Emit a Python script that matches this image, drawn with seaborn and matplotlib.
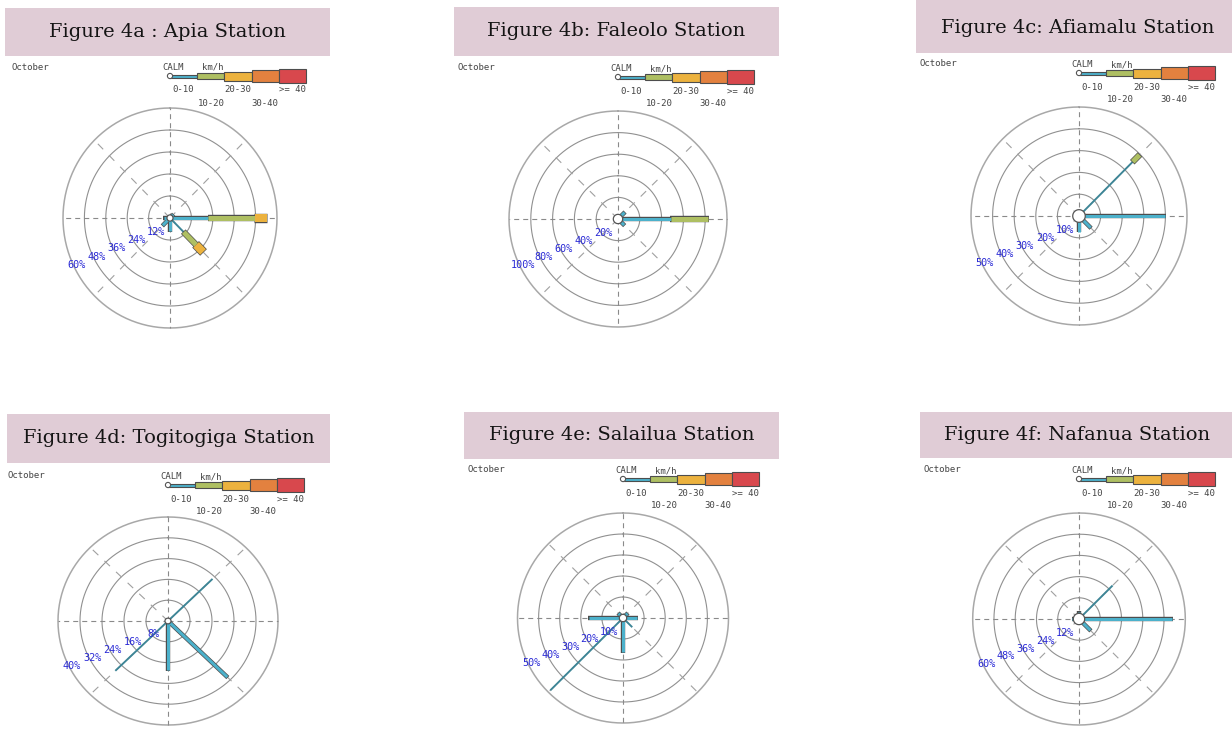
import numpy as np
import matplotlib
matplotlib.use("Agg")
import matplotlib.pyplot as plt
from matplotlib.patches import Rectangle, Circle
import seaborn as sns

# ---------------------------------------------------------------- data
DIRECTIONS = ["N", "NE", "E", "SE", "S", "SW", "W", "NW"]
SPEED_CLASSES = ["0-10", "10-20", "20-30", "30-40", ">= 40"]
MONTH = "October"
UNIT = "km/h"

# Apia (% of observations per direction and speed class)
apia_title = "Figure 4a : Apia Station"
apia_rings = [12, 24, 36, 48, 60]
apia_calm = 1.7
apia_0_10 = [0, 2.5, 21.5, 10.9, 7.3, 5.7, 3.4, 0]
apia_10_20 = [0, 0, 26.2, 9.8, 0, 0, 0, 0]
apia_20_30 = [0, 0, 6.5, 5.5, 0, 0, 0, 0]

# Faleolo
faleolo_title = "Figure 4b: Faleolo Station"
faleolo_rings = [20, 40, 60, 80, 100]
faleolo_calm = 4.3
faleolo_0_10 = [0, 8.5, 48.3, 8.0, 0, 0, 0, 0]
faleolo_10_20 = [0, 0, 34.5, 0, 0, 0, 0, 0]

# Afiamalu
afiamalu_title = "Figure 4c: Afiamalu Station"
afiamalu_rings = [10, 20, 30, 40, 50]
afiamalu_calm = 2.9
afiamalu_0_10 = [0, 35.2, 39.8, 7.6, 7.2, 0, 0, 0]
afiamalu_10_20 = [0, 4.4, 0, 0, 0, 0, 0, 0]

# Togitogiga
togitogiga_title = "Figure 4d: Togitogiga Station"
togitogiga_rings = [8, 16, 24, 32, 40]
togitogiga_calm = 1.1
togitogiga_0_10 = [0, 22.9, 0, 30.5, 19.0, 27.1, 0, 0]

# Salailua
salailua_title = "Figure 4e: Salailua Station"
salailua_rings = [10, 20, 30, 40, 50]
salailua_calm = 1.75
salailua_0_10 = [0, 3.0, 6.6, 6.2, 16.1, 48.7, 16.3, 3.0]

# Nafanua
nafanua_title = "Figure 4f: Nafanua Station"
nafanua_rings = [12, 24, 36, 48, 60]
nafanua_calm = 3.2
nafanua_0_10 = [4.0, 26.8, 52.7, 9.1, 0, 0, 3.8, 0]

STATIONS = [
    dict(title=apia_title, rings=apia_rings, calm=apia_calm,
         speeds={"0-10": apia_0_10, "10-20": apia_10_20, "20-30": apia_20_30}),
    dict(title=faleolo_title, rings=faleolo_rings, calm=faleolo_calm,
         speeds={"0-10": faleolo_0_10, "10-20": faleolo_10_20}),
    dict(title=afiamalu_title, rings=afiamalu_rings, calm=afiamalu_calm,
         speeds={"0-10": afiamalu_0_10, "10-20": afiamalu_10_20}),
    dict(title=togitogiga_title, rings=togitogiga_rings, calm=togitogiga_calm,
         speeds={"0-10": togitogiga_0_10}),
    dict(title=salailua_title, rings=salailua_rings, calm=salailua_calm,
         speeds={"0-10": salailua_0_10}),
    dict(title=nafanua_title, rings=nafanua_rings, calm=nafanua_calm,
         speeds={"0-10": nafanua_0_10}),
]

# ---------------------------------------------------------------- layout (pixels)
W, H = 1232, 731
PANELS = [
    dict(center=(170, 218), rx=107, ry=110, box=(5, 8, 330, 56), title_xy=(167, 32),
         month_xy=(12, 67), legend_xy=(170, 76), thin=["SE"]),
    dict(center=(618, 219), rx=109, ry=108, box=(454, 7, 779, 56), title_xy=(616, 31),
         month_xy=(458, 68), legend_xy=(618, 77), thin=[]),
    dict(center=(1079, 216), rx=108, ry=109, box=(916, 0, 1232, 53), title_xy=(1078, 28),
         month_xy=(920, 64), legend_xy=(1079, 73), thin=["NE"]),
    dict(center=(168, 621), rx=110, ry=104, box=(7, 414, 330, 463), title_xy=(169, 438),
         month_xy=(7, 476), legend_xy=(168, 485), thin=["NE", "SW"]),
    dict(center=(623, 618), rx=105.5, ry=105, box=(464, 412, 779, 459), title_xy=(622, 435),
         month_xy=(468, 470), legend_xy=(623, 479), thin=["SW", "SE"]),
    dict(center=(1079, 619), rx=106.3, ry=106, box=(920, 412, 1232, 458), title_xy=(1077, 435),
         month_xy=(924, 470), legend_xy=(1079, 479), thin=["NE"]),
]

sns.set_theme(style="white")
plt.rcParams["lines.scale_dashes"] = False
SPEED_COLORS = sns.color_palette(["#4cb1cb", "#aebf62", "#ecb23e", "#e3813f", "#d8484d"])
BAR_PX = [3.0, 5.0, 8.0, 10.0, 13.0]
LEGEND_H = [3, 6, 9, 12, 14]
EDGE = "#4d4d4d"
MONO = "DejaVu Sans Mono"
PX = 0.72  # points per pixel at 100 dpi

fig = plt.figure(figsize=(W / 100, H / 100), dpi=100)
fig.patch.set_facecolor("white")

# overlay for titles, month labels and legends
ov = fig.add_axes([0, 0, 1, 1])
ov.set_xlim(0, W)
ov.set_ylim(H, 0)
ov.set_axis_off()
ov.patch.set_alpha(0)

for st, pn in zip(STATIONS, PANELS):
    x0, y0, x1, y1 = pn["box"]
    ov.add_patch(Rectangle((x0, y0), x1 - x0, y1 - y0, facecolor="#e0ccd6",
                           edgecolor="none", zorder=1))
    ov.text(*pn["title_xy"], st["title"], ha="center", va="center",
            fontsize=14, family="DejaVu Serif", color="#141414", zorder=2)
    ov.text(*pn["month_xy"], MONTH, ha="left", va="center", fontsize=6.5,
            family=MONO, color="#444444")

    # speed legend
    lx, ly = pn["legend_xy"]
    ov.text(lx + 3.5, ly - 8.5, "CALM", ha="center", va="center", fontsize=6.5,
            family=MONO, color="#444444")
    ov.text(lx + 43, ly - 8.5, UNIT, ha="center", va="center", fontsize=6.5,
            family=MONO, color="#444444")
    seg = 27.2
    for k, (lab, col, hh) in enumerate(zip(SPEED_CLASSES, SPEED_COLORS, LEGEND_H)):
        xs = lx + k * seg
        ov.add_patch(Rectangle((xs, ly - hh / 2), seg, hh, facecolor=col,
                               edgecolor=EDGE, lw=0.8, zorder=3))
        ty = ly + 14 if k % 2 == 0 else ly + 27
        ov.text(xs + seg / 2, ty, lab, ha="center", va="center", fontsize=6.5,
                family=MONO, color="#444444")
    ov.add_patch(Circle((lx, ly), 2.6, facecolor="white", edgecolor="#555555",
                        lw=0.8, zorder=4))

# ---------------------------------------------------------------- wind roses
theta_full = np.linspace(0, 2 * np.pi, 361)
for st, pn in zip(STATIONS, PANELS):
    cx, cy = pn["center"]
    rx, ry = pn["rx"], pn["ry"]
    rmax = st["rings"][-1]
    ax = fig.add_axes([(cx - rx) / W, 1 - (cy + ry) / H, 2 * rx / W, 2 * ry / H],
                      projection="polar")
    ax.set_aspect("auto")
    ax.set_theta_zero_location("N")
    ax.set_theta_direction(-1)
    ax.set_ylim(0, rmax)
    ax.set_axis_off()

    # rings
    for r in st["rings"]:
        outer = r == rmax
        ax.plot(theta_full, np.full_like(theta_full, r),
                color="#a8a8a8" if outer else "#909090",
                lw=1.1 if outer else 0.8, zorder=1, clip_on=False)
    # direction guides
    for k in range(8):
        th = np.deg2rad(45 * k)
        if k % 2 == 0:
            ax.plot([th, th], [0, rmax], color="#8a8a8a", lw=0.8,
                    dashes=(3.6, 2.9), zorder=1, clip_on=False)
        else:
            ax.plot([th, th], [0, rmax], color="#a0a0a0", lw=0.8,
                    dashes=(5.5, 6.0), zorder=1, clip_on=False)

    # stacked bars
    px_to_r = rmax / ((rx + ry) / 2)
    delta = 0.7 * px_to_r
    for i, d in enumerate(DIRECTIONS):
        th = np.deg2rad(45 * i)
        base = 0.0
        for j, cls in enumerate(SPEED_CLASSES):
            vals = st["speeds"].get(cls)
            if vals is None or vals[i] <= 0:
                continue
            v = vals[i]
            if j == 0 and d in pn["thin"]:
                ax.plot([th, th], [base, base + v], color="#3d8596", lw=1.9 * PX,
                        solid_capstyle="butt", zorder=3, clip_on=False)
            else:
                w = BAR_PX[j]
                ax.plot([th, th], [max(base - delta, 0), base + v + delta], color=EDGE,
                        lw=(w + 1.4) * PX, solid_capstyle="butt", zorder=3, clip_on=False)
                ax.plot([th, th], [base, base + v], color=SPEED_COLORS[j],
                        lw=w * PX, solid_capstyle="butt", zorder=4, clip_on=False)
            base += v

    # calm circle
    ax.fill(theta_full, np.full_like(theta_full, st["calm"]), facecolor="white",
            edgecolor="#555555", lw=0.9, zorder=6, clip_on=False)

    # ring labels
    for r in st["rings"]:
        ax.annotate(f"{r}%", xy=(np.deg2rad(248), r), xytext=(6 * PX, -5.7 * PX),
                    textcoords="offset points", ha="center", va="center",
                    fontsize=7.3, family=MONO, color="#2a2ad6", zorder=7,
                    annotation_clip=False)

fig.savefig("out.png", dpi=100, facecolor="white")
